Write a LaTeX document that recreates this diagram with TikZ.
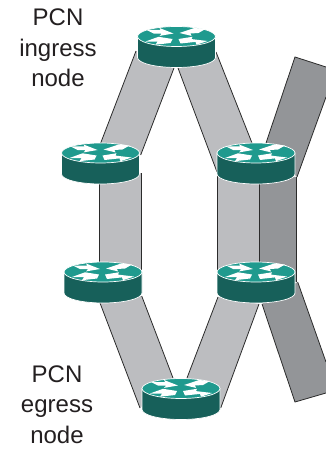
\documentclass[tikz,border=0pt]{standalone}
\usepackage{fontspec}
\setmainfont{Liberation Sans}
\usetikzlibrary{calc}
\definecolor{bandlight}{HTML}{BCBDC0}
\definecolor{banddark}{HTML}{939598}
\definecolor{edgeline}{HTML}{2B2B2B}
\definecolor{rtop}{HTML}{1F9A8E}
\definecolor{rbody}{HTML}{17605A}
\definecolor{labeltext}{HTML}{231F20}
\newcommand{\band}[5]{%
  \fill[#1] #2 -- #3 -- #4 -- #5 -- cycle;
  \draw[edgeline,line width=0.8pt] #2 -- #3;
  \draw[edgeline,line width=0.8pt] #4 -- #5;
}
\tikzset{
  x=1pt,y=-1pt,
  anchorpt/.style={inner sep=0pt,minimum size=0pt},
  lab/.style={font=\fontsize{24}{30.5}\selectfont,text=labeltext,align=center,inner sep=0pt},
  pics/router/.style={code={
    \fill[rbody,draw=white,line width=0.7pt] (-39,0) -- (-39,21) arc[start angle=180,end angle=0,x radius=39,y radius=10] -- (39,0) -- cycle;
    \fill[rtop,draw=white,line width=0.7pt] (0,0) ellipse[x radius=39,y radius=10];
    \fill[white] (-30,-6.5) -- (-16,-6.5) -- (-17,-8.5) -- (-3,-3) -- (-17,-0.6) -- (-15,-2.8) -- (-23,-3) -- cycle;
    \fill[white] (29,-7.5) -- (18,-8.5) -- (3,-3.5) -- (15,-0.6) -- (14,-3) -- (22,-3.5) -- cycle;
    \fill[white] (-4,2.5) -- (-18,0.3) -- (-31,5) -- (-19,5.2) -- (-21,8.2) -- (-6,6.5) -- cycle;
    \fill[white] (2,2.5) -- (16,0.3) -- (15,2.6) -- (31,4.5) -- (20,8.2) -- (19,5.4) -- (4,7) -- cycle;
  }}
}
\begin{document}
\begin{tikzpicture}
\useasboundingbox (0,0) rectangle (326,449);
\node[anchorpt] (r1) at (176.5,36.5) {};
\node[anchorpt] (r2) at (100.5,153) {};
\node[anchorpt] (r3) at (256,153) {};
\node[anchorpt] (r4) at (103,272) {};
\node[anchorpt] (r5) at (256,272) {};
\node[anchorpt] (r6) at (181,388.5) {};
\coordinate (ua) at (295,57);
\coordinate (ub) at (326,67);
\coordinate (uc) at (326,97);
\coordinate (da) at (295,402);
\coordinate (db) at (326,393);
\coordinate (dc) at (326,362);
% dark bands
\fill[banddark] ($(r3)+(10,-10)$) -- (ua) -- (ub) -- (uc) -- ($(r3)+(41,24)$) -- cycle;
\draw[edgeline,line width=0.8pt] ($(r3)+(10,-10)$) -- (ua) -- (ub);
\draw[edgeline,line width=0.8pt] (uc) -- ($(r3)+(41,24)$);
\fill[banddark] ($(r5)+(6,32)$) -- (da) -- (db) -- (dc) -- ($(r5)+(41.7,10)$) -- cycle;
\draw[edgeline,line width=0.8pt] ($(r5)+(6,32)$) -- (da) -- (db);
\draw[edgeline,line width=0.8pt] (dc) -- ($(r5)+(41.7,10)$);
\band{banddark}{($(r3)+(3,20)$)}{($(r5)+(3,0)$)}{($(r5)+(40.5,10)$)}{($(r3)+(40.5,24)$)}
% light bands
\band{bandlight}{($(r1)+(-40.5,14.5)$)}{($(r2)+(0.2,-10)$)}{($(r2)+(40.2,2)$)}{($(r1)+(-2.5,31.5)$)}
\band{bandlight}{($(r1)+(1.5,31.5)$)}{($(r3)+(-39,19)$)}{($(r3)+(-4,-10)$)}{($(r1)+(39.5,15.5)$)}
\band{bandlight}{($(r2)+(-1.5,20)$)}{($(r4)+(-4,-2)$)}{($(r4)+(38,-2)$)}{($(r2)+(40.5,20)$)}
\band{bandlight}{($(r4)+(-3,31)$)}{($(r6)+(-41,19.5)$)}{($(r6)+(-8,-10.5)$)}{($(r4)+(38.7,24)$)}
\band{bandlight}{($(r5)+(-38,25)$)}{($(r6)+(6,-10.5)$)}{($(r6)+(39.7,19.5)$)}{($(r5)+(3,32)$)}
\fill[bandlight] ($(r3)+(-39,19)$) rectangle ($(r5)+(3,0)$);
\draw[edgeline,line width=0.8pt] ($(r3)+(-39,19)$) -- ($(r5)+(-39,10)$);
\draw[edgeline,line width=0.4pt] ($(r3)+(3,28)$) -- ($(r5)+(3,0)$);
% routers
\foreach \n in {r1,r2,r3,r4,r5,r6} \pic at (\n) {router};
% labels
\node[lab,anchor=base] (ing) at (58,87) {PCN\\ingress\\node};
\node[lab,anchor=base] (egr) at (57,443) {PCN\\egress\\node};
\end{tikzpicture}
\end{document}
